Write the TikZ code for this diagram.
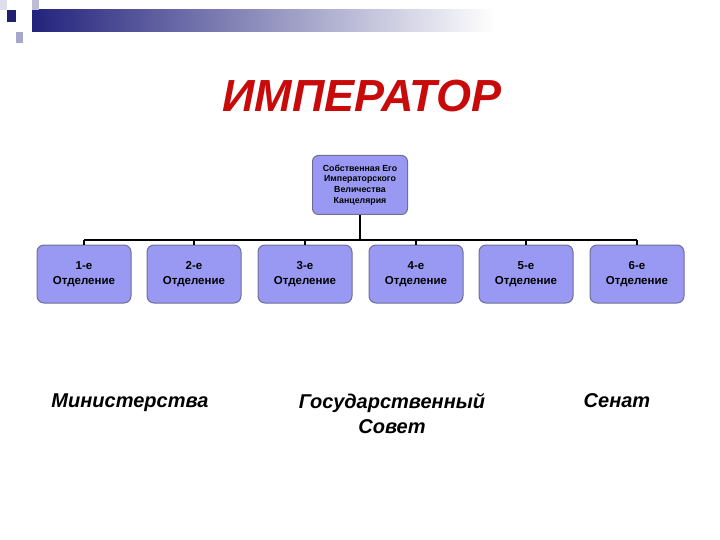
\documentclass[tikz,border=0pt]{standalone}
\usepackage{fontspec}
\setmainfont{Liberation Sans}
\definecolor{boxfill}{RGB}{153,153,243}
\definecolor{boxline}{RGB}{110,110,150}
\definecolor{titlered}{RGB}{200,10,10}
\definecolor{headnavy}{RGB}{35,35,125}
\tikzset{
  otdbox/.style={draw=boxline,fill=boxfill,line width=1pt,rounded corners=7pt,
    minimum width=94pt,minimum height=58pt,align=center,font=\bfseries\fontsize{11.5}{15.5}\selectfont},
  kancbox/.style={draw=boxline,fill=boxfill,line width=1pt,rounded corners=6pt,
    minimum width=95pt,minimum height=59pt,align=center,font=\bfseries\fontsize{8.8}{10.8}\selectfont},
  link/.style={line width=1.8pt},
  lowlabel/.style={font=\bfseries\itshape\fontsize{20}{25}\selectfont,align=center}
}
\begin{document}
\begin{tikzpicture}[x=1pt,y=-1pt]
  \useasboundingbox (0,0) rectangle (720,540);

  % header bar
  \shade[left color=headnavy,right color=white] (32,10) rectangle (495,32);
  \fill[headnavy!90!black] (7,10) rectangle (16,22);
  \fill[headnavy!40] (16,32) rectangle (23,43);
  \fill[headnavy!30] (32,0) rectangle (39,10);
  \fill[headnavy!15] (0,0) rectangle (7,10);

  % title
  \node[text=titlered,font=\bfseries\itshape\fontsize{45}{50}\selectfont] (imp) at (362,96) {ИМПЕРАТОР};

  % chancellery
  \node[kancbox] (kanc) at (360,185) {Собственная Его\\Императорского\\Величества\\Канцелярия};

  % departments
  \foreach \n/\x in {1/84,2/194,3/305,4/416,5/526,6/637}
    \node[otdbox] (otd\n) at (\x,274) {\n-е\\Отделение};

  \coordinate (busL) at (84,240);
  \coordinate (busR) at (637,240);
  \draw[link] (kanc.south) -- (kanc.south |- busL);
  \draw[link] (busL) -- (busR);
  \foreach \n in {1,...,6}
    \draw[link] (otd\n.north) -- (otd\n.north |- busL);

  % lower labels
  \node[lowlabel,anchor=north] (min) at (130,390) {Министерства};
  \node[lowlabel,anchor=north] (gs) at (392,390) {Государственный\\Совет};
  \node[lowlabel,anchor=north] (sen) at (617,390) {Сенат};
\end{tikzpicture}
\end{document}
